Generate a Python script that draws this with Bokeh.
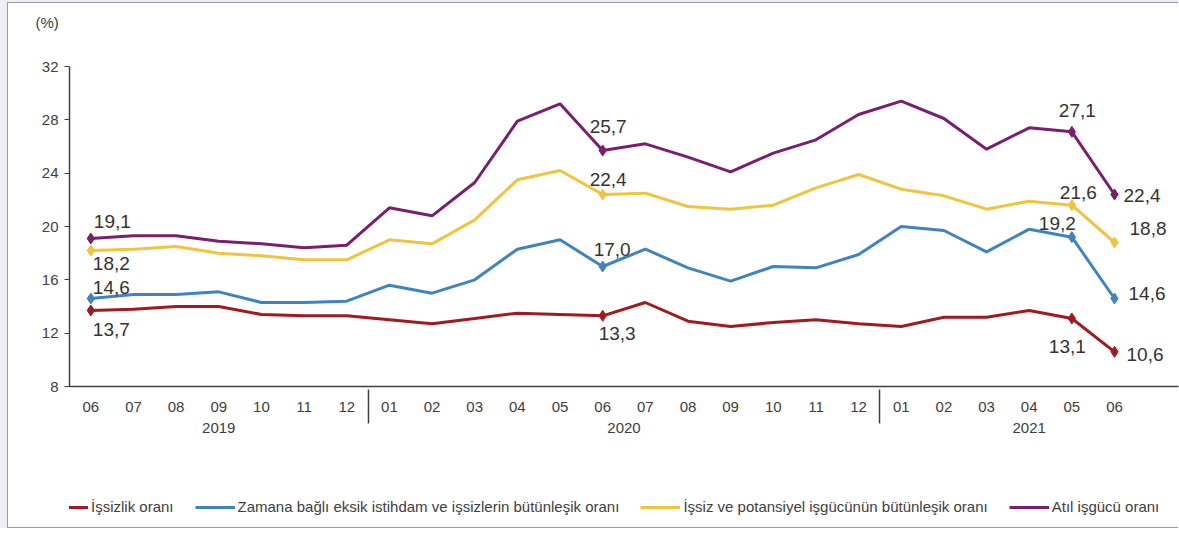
from bokeh.plotting import figure
from bokeh.models import (FactorRange, ColumnDataSource, FixedTicker, Legend,
                          LegendItem)
from bokeh.layouts import column
from bokeh.core.properties import value
from bokeh.embed import file_html
from bokeh.resources import INLINE

# ---------------- data ----------------
years = ["2019", "2020", "2021"]
months_2019 = ["06", "07", "08", "09", "10", "11", "12"]
months_2020 = ["01", "02", "03", "04", "05", "06", "07", "08", "09", "10", "11", "12"]
months_2021 = ["01", "02", "03", "04", "05", "06"]
blank_slot = " "  # empty slot that ends the 2021 group on the axis

series_names = [
    "İşsizlik oranı",
    "Zamana bağlı eksik istihdam ve işsizlerin bütünleşik oranı",
    "İşsiz ve potansiyel işgücünün bütünleşik oranı",
    "Atıl işgücü oranı",
]
issizlik = [13.7, 13.8, 14.0, 14.0, 13.4, 13.3, 13.3,
            13.0, 12.7, 13.1, 13.5, 13.4, 13.3, 14.3, 12.9, 12.5, 12.8, 13.0, 12.7,
            12.5, 13.2, 13.2, 13.7, 13.1, 10.6]
zamana = [14.6, 14.9, 14.9, 15.1, 14.3, 14.3, 14.4,
          15.6, 15.0, 16.0, 18.3, 19.0, 17.0, 18.3, 16.9, 15.9, 17.0, 16.9, 17.9,
          20.0, 19.7, 18.1, 19.8, 19.2, 14.6]
potansiyel = [18.2, 18.3, 18.5, 18.0, 17.8, 17.5, 17.5,
              19.0, 18.7, 20.5, 23.5, 24.2, 22.4, 22.5, 21.5, 21.3, 21.6, 22.9, 23.9,
              22.8, 22.3, 21.3, 21.9, 21.6, 18.8]
atil = [19.1, 19.3, 19.3, 18.9, 18.7, 18.4, 18.6,
        21.4, 20.8, 23.3, 27.9, 29.2, 25.7, 26.2, 25.2, 24.1, 25.5, 26.5, 28.4,
        29.4, 28.1, 25.8, 27.4, 27.1, 22.4]
labeled_idx = [0, 12, 23, 24]
y_ticks = [8, 12, 16, 20, 24, 28, 32]
unit_text = "(%)"

# ---------------- styles ----------------
colors = ["#a01a20", "#3f84bf", "#f0c53e", "#7a1f70"]
label_offsets = [
    [(2, 19), (-4, 18), (-23, 28), (12, 3)],
    [(2, -11), (-9, -17), (-33, -14), (14, -5)],
    [(2, 13), (-13, -15), (-12, -13), (15, -14)],
    [(3, -17), (-13, -24), (-13, -21), (9, 1)],
]
FONT = "Liberation Sans"
BORDER = "1px solid #9c9c9c"
ML, MR, FW = 61, 2, 1108  # left border, right border, frame width (px)


def strip(height, styles):
    f = figure(width=ML + FW + MR, height=height, x_range=(0, 1), y_range=(0, 1),
               min_border_left=ML, min_border_right=MR, min_border_top=0,
               min_border_bottom=0, output_backend="svg", toolbar_location=None,
               x_axis_location=None, y_axis_location=None)
    f.styles = styles
    f.grid.visible = False
    f.outline_line_color = None
    f.background_fill_color = None
    f.border_fill_color = None
    return f


# ---------------- unit text strip ----------------
pt = strip(54, {"border-left": BORDER, "border-top": BORDER})
pt.title.text = unit_text
pt.title.align = "left"
pt.title.offset = -34
pt.title.standoff = 20
pt.title.vertical_align = "top"
pt.title.text_font = FONT
pt.title.text_font_size = "15px"
pt.title.text_font_style = "normal"
pt.title.text_color = "#404040"

# ---------------- main chart ----------------
periods = ([(years[0], m) for m in months_2019] +
           [(years[1], m) for m in months_2020] +
           [(years[2], m) for m in months_2021])
factors = periods + [(years[2], blank_slot)]

x_range = FactorRange(*factors, group_padding=0, factor_padding=0,
                      subgroup_padding=0, range_padding=0)

p = figure(x_range=x_range, y_range=(8, 32),
           frame_width=FW, frame_height=320,
           min_border_left=ML, min_border_right=MR,
           min_border_top=10, min_border_bottom=75,
           output_backend="svg", toolbar_location=None)
p.styles = {"border-left": BORDER}
p.xgrid.visible = False
p.ygrid.visible = False
p.outline_line_color = None
p.background_fill_color = None
p.border_fill_color = None

ya = p.yaxis[0]
ya.ticker = FixedTicker(ticks=y_ticks)
ya.minor_tick_line_color = None
ya.major_tick_in = 0
ya.major_tick_out = 5
ya.axis_line_color = "#404040"
ya.axis_line_width = 1.5
ya.major_tick_line_color = "#404040"
ya.major_label_text_font = FONT
ya.major_label_text_font_size = "15px"
ya.major_label_text_color = "#404040"
ya.major_label_standoff = 6

xa = p.xaxis[0]
xa.axis_line_color = "#404040"
xa.axis_line_width = 1.5
xa.major_tick_line_color = None
xa.minor_tick_line_color = None
xa.major_label_text_font = FONT
xa.major_label_text_font_size = "15px"
xa.major_label_text_color = "#404040"
xa.major_label_standoff = 5
xa.group_text_font = FONT
xa.group_text_font_size = "15px"
xa.group_text_font_style = "normal"
xa.group_text_color = "#404040"
xa.separator_line_color = "#404040"
xa.separator_line_width = 1.5

all_series = [issizlik, zamana, potansiyel, atil]
for k, vals in enumerate(all_series):
    p.line(x=periods, y=vals, line_color=colors[k], line_width=3)
    lx = [periods[i] for i in labeled_idx]
    ly = [vals[i] for i in labeled_idx]
    p.scatter(x=lx, y=ly, marker="diamond", size=11, color=colors[k])
    src = ColumnDataSource(dict(
        x=lx, y=ly,
        t=[f"{v:.1f}".replace(".", ",") for v in ly],
        dx=[o[0] for o in label_offsets[k]],
        dy=[o[1] for o in label_offsets[k]],
    ))
    p.text(x="x", y="y", text="t", x_offset="dx", y_offset="dy", source=src,
           text_align="left", text_baseline="middle",
           text_font=value(FONT), text_font_size="19px", text_color="#333333")

# ---------------- legend strip ----------------
pl = strip(67, {"border-left": BORDER, "border-bottom": BORDER})
items = []
for k in range(len(series_names)):
    # legend swatch renderer, kept outside the strip's visible range
    r = pl.line(x=[5, 6], y=[5, 6], line_color=colors[k], line_width=3)
    items.append(LegendItem(label=series_names[k], renderers=[r]))
leg = Legend(items=items, location=(-21, 13), orientation="horizontal",
             glyph_width=40, glyph_height=14, label_standoff=3, spacing=21,
             padding=0, margin=0, border_line_color=None,
             background_fill_alpha=0, label_text_font=FONT,
             label_text_font_size="15px", label_text_color="#404040",
             label_height=14)
pl.add_layout(leg, "center")

layout = column(pt, p, pl, spacing=0,
                styles={"background-color": "white",
                        "border-left": "7px solid #efeef6",
                        "border-top": "2px solid #efeef6"})

open("out.html", "w").write(file_html(layout, INLINE))
